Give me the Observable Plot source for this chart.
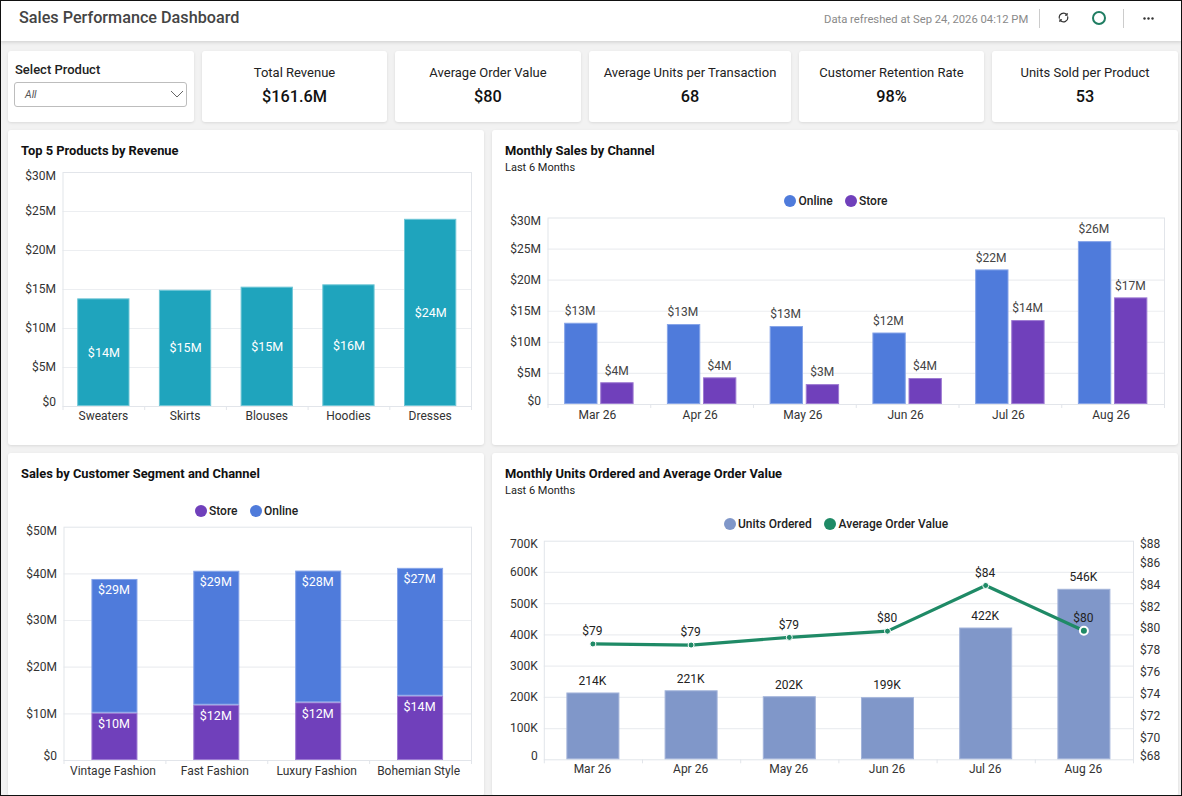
<!DOCTYPE html>
<html>
<head>
<meta charset="utf-8">
<script src="https://cdn.jsdelivr.net/npm/d3@7"></script>
<script src="https://cdn.jsdelivr.net/npm/@observablehq/plot@0.6"></script>
<style>
html,body{margin:0;padding:0;background:#f2f2f2;}
body{width:1182px;height:796px;position:relative;overflow:hidden;font-family:Roboto,sans-serif;color:#222;}
.abs{position:absolute;}
.card{position:absolute;background:#fff;border-radius:3px;box-shadow:0 1px 3px rgba(0,0,0,.10);}
.t{position:absolute;white-space:nowrap;line-height:1;}
.kl{position:absolute;left:0;right:0;top:15px;text-align:center;font-size:13px;line-height:1;color:#222;}
.kv{position:absolute;left:0;right:0;top:37.5px;text-align:center;font-size:16.3px;font-weight:500;line-height:1;color:#111;}
.ct{position:absolute;left:13px;top:14.5px;font-size:12.9px;font-weight:700;line-height:1;color:#111;white-space:nowrap;}
.cs{position:absolute;left:13px;top:32px;font-size:11px;line-height:1;color:#222;white-space:nowrap;}
.ld{position:absolute;width:12px;height:12px;border-radius:50%;}
.lt{position:absolute;font-size:12px;font-weight:500;line-height:1;white-space:nowrap;color:#222;}
svg.plot{position:absolute;left:0;top:0;}
#border{position:absolute;left:0;top:0;width:1182px;height:796px;box-sizing:border-box;border:1.5px solid #111;pointer-events:none;z-index:9;}
</style>
</head>
<body>
<div id="root"></div>
<div id="border"></div>
<script>
const kpiLabels = ["Total Revenue","Average Order Value","Average Units per Transaction","Customer Retention Rate","Units Sold per Product"];
const kpiValues = ["$161.6M","$80","68","98%","53"];

const products = ["Sweaters","Skirts","Blouses","Hoodies","Dresses"];
const productRevenue = [13.8,14.9,15.3,15.6,24.0];

const months = ["Mar 26","Apr 26","May 26","Jun 26","Jul 26","Aug 26"];
const onlineSales = [13.07,12.86,12.54,11.5,21.65,26.2];
const storeSales = [3.5,4.29,3.2,4.18,13.5,17.15];

const segments = ["Vintage Fashion","Fast Fashion","Luxury Fashion","Bohemian Style"];
const segmentStore = [10.13,11.85,12.36,13.78];
const segmentOnline = [28.67,28.71,28.24,27.4];

const unitsOrdered = [214,221,202,199,422,546];
const avgOrderValue = [78.6,78.5,79.2,79.77,83.95,79.8];

const salesTicks30 = [0,5,10,15,20,25,30];
const salesTicks50 = [0,10,20,30,40,50];
const unitTicks = [0,100,200,300,400,500,600,700];
const aovTicks = [68,70,72,74,76,78,80,82,84,86,88];

const TEAL="#1fa4bd", BLUE="#4f7bdb", PURPLE="#7040bb", PERI="#8097c9", GREEN="#1f8a66";
const GRID="#eceef1", FRAME="#e2e5ea", TXT="#333";
const money = v => "$"+Math.round(v)+"M";

const root=document.getElementById("root");
function el(cls,css,html,parent){const d=document.createElement("div");d.className=cls;if(css)d.style.cssText=css;if(html!=null)d.innerHTML=html;(parent||root).appendChild(d);return d;}

// header
el("abs","left:0;top:0;width:1182px;height:41px;background:#fff;box-shadow:0 1px 4px rgba(0,0,0,.16);");
el("t","left:19px;top:10px;font-size:16.2px;font-weight:500;color:#444;","Sales Performance Dashboard");
el("t","left:824px;top:13.5px;font-size:11.25px;color:#8a8a8a;","Data refreshed at Sep 24, 2026 04:12 PM");
el("abs","left:1039px;top:9px;width:1px;height:19px;background:#ccc;");
el("abs","left:1123px;top:9px;width:1px;height:19px;background:#ccc;");
el("abs","left:1058px;top:12px;width:11px;height:11px;",`<svg width="11" height="11" viewBox="0 0 12 12" fill="none" stroke="#333" stroke-width="1.3" style="display:block"><path d="M1.6 7.2A4.6 4.6 0 0 1 9.6 3"/><path d="M10.4 4.8A4.6 4.6 0 0 1 2.4 9"/><path d="M9.9 1v2.4H7.6M2.1 11V8.6h2.3"/></svg>`);
el("abs","left:1092px;top:11px;width:10px;height:10px;border:2px solid #1f7d62;border-radius:50%;");
el("abs","left:1143px;top:17px;width:10px;height:2px;",`<svg width="11" height="3" style="display:block"><circle cx="1.5" cy="1.5" r="1.2" fill="#333"/><circle cx="5.5" cy="1.5" r="1.2" fill="#333"/><circle cx="9.5" cy="1.5" r="1.2" fill="#333"/></svg>`);

// filter card
const fc=el("card","left:8px;top:51px;width:186px;height:71px;");
el("t","left:7px;top:12px;font-size:13px;font-weight:500;color:#222;","Select Product",fc);
el("abs","left:6px;top:31px;width:171px;height:23px;border:1px solid #bdbdbd;border-radius:3px;",`<span style="position:absolute;left:10px;top:6.5px;font-size:10.5px;line-height:1;font-style:italic;color:#555;">All</span><svg style="position:absolute;right:2px;top:7px" width="14" height="9" fill="none" stroke="#666"><path d="M1 1l6 6 6-6"/></svg>`,fc);

// kpi cards
const kpiLeft=[202,395,589,799,992], kpiRight=[387,581,791,984,1178];
kpiLabels.forEach((l,i)=>{
  const c=el("card",`left:${kpiLeft[i]}px;top:51px;width:${kpiRight[i]-kpiLeft[i]}px;height:71px;`);
  el("kl","",l,c); el("kv","",kpiValues[i],c);
});

// chart helpers
function card(l,t,w,h,title,sub){
  const c=el("card",`left:${l}px;top:${t}px;width:${w}px;height:${h}px;`);
  el("ct","",title,c);
  if(sub) el("cs","",sub,c);
  return c;
}
function legend(items){
  items.forEach(([cx,cy,tx,color,label])=>{
    el("ld",`left:${cx-6}px;top:${cy-6}px;background:${color};`);
    el("lt",`left:${tx}px;top:${cy-6.5}px;`,label);
  });
}
function baseAxes({ticks,fmt,step,labelPad=7,xPad=5,xDx=-1,topDy=3.5,botDy=-4.5}){
  const mid=ticks.slice(1,-1), lo=ticks[0], hi=ticks[ticks.length-1];
  const yopt={tickSize:0,tickPadding:labelPad,tickFormat:fmt,label:null,fill:TXT};
  return [
    Plot.gridY(mid,{stroke:GRID,strokeOpacity:1,strokeWidth:1.2}),
    Plot.frame({stroke:FRAME,strokeOpacity:1}),
    Plot.axisX({tickSize:4,tickFormat:null,label:null,dx:-step/2,stroke:FRAME,strokeOpacity:1}),
    Plot.axisX({tickSize:0,tickPadding:xPad,label:null,fill:TXT,dx:xDx}),
    Plot.axisY(mid,yopt),
    Plot.axisY([hi],{...yopt,dy:topDy}),
    Plot.axisY([lo],{...yopt,dy:botDy})
  ];
}
function endTick(domain,step){
  return Plot.axisX(domain.slice(-1),{tickSize:4,tickFormat:null,label:null,dx:step/2,stroke:FRAME,strokeOpacity:1});
}
function draw(parent,w,h,m,xDomain,pad,yDomain,marks){
  const svg=Plot.plot({
    width:w,height:h,
    marginLeft:m[0],marginRight:m[1],marginTop:m[2],marginBottom:m[3],
    x:{type:"band",domain:xDomain,paddingInner:pad,paddingOuter:pad/2,round:false,axis:null},
    y:{domain:yDomain,axis:null},
    style:{fontFamily:"Roboto",fontSize:"12px",background:"transparent",overflow:"visible"},
    marks
  });
  parent.appendChild(svg);
  return svg;
}

// Chart 1
{
  const c=card(8,130,476,315,"Top 5 Products by Revenue");
  const rows=products.map((p,i)=>({p,v:productRevenue[i]}));
  const m=[54.5,13,42,39], step=(476-m[0]-m[1])/products.length;
  draw(c,476,315,m,products,0.36,[0,30],[
    ...baseAxes({ticks:salesTicks30,fmt:v=>v?`$${v}M`:"$0",step,xDx:-0.5}),endTick(products,step),
    Plot.barY(rows,{x:"p",y:"v",fill:TEAL,stroke:"#6fc6d6",strokeWidth:1,inset:0.5}),
    Plot.text(rows,{x:"p",y:d=>d.v/2,text:d=>money(d.v),fill:"#fff",fontSize:12.5})
  ]);
}

// Chart 2
{
  const c=card(492,130,686,315,"Monthly Sales by Channel","Last 6 Months");
  const rows=months.map((p,i)=>({p,o:onlineSales[i],s:storeSales[i]}));
  const m=[55.5,14,87.5,41], step=(686-m[0]-m[1])/months.length, off=18.3, inset=36.6;
  draw(c,686,315,m,months,0.324,[0,30],[
    ...baseAxes({ticks:salesTicks30,fmt:v=>v?`$${v}M`:"$0",step,labelPad:7,xPad:6,xDx:-2,botDy:-3.5}),endTick(months,step),
    Plot.barY(rows,{x:"p",y:"o",fill:BLUE,stroke:"#86a4e8",inset:0.5,insetRight:inset}),
    Plot.barY(rows,{x:"p",y:"s",fill:PURPLE,stroke:"#9d7ad2",inset:0.5,insetLeft:inset}),
    Plot.text(rows,{x:"p",y:"o",text:d=>money(d.o),dx:-off-1,dy:-12,fill:"#444"}),
    Plot.text(rows,{x:"p",y:"s",text:d=>money(d.s),dx:off-1,dy:-12,fill:"#444"})
  ]);
  legend([[790,201,798.5,BLUE,"Online"],[851,201,859,PURPLE,"Store"]]);
}

// Chart 3
{
  const c=card(8,453,476,343,"Sales by Customer Segment and Channel");
  const rows=segments.flatMap((p,i)=>[
    {p,ch:"Store",v:segmentStore[i],top:segmentStore[i]},
    {p,ch:"Online",v:segmentOnline[i],top:segmentStore[i]+segmentOnline[i]}
  ]);
  const m=[55.5,13,73.7,36], step=(476-m[0]-m[1])/segments.length;
  draw(c,476,343,m,segments,0.548,[0,50],[
    ...baseAxes({ticks:salesTicks50,fmt:v=>v?`$${v}M`:"$0",step,xPad:6,xDx:-2}),endTick(segments,step),
    Plot.barY(rows,{x:"p",y:"v",z:"ch",order:["Store","Online"],fill:d=>d.ch==="Store"?PURPLE:BLUE,stroke:d=>d.ch==="Store"?"#9d7ad2":"#86a4e8",inset:0.5}),
    Plot.text(rows,{x:"p",y:"top",dy:11,dx:-1,text:d=>money(d.v),fill:"#fff",fontSize:12.5})
  ]);
  legend([[201,511,209,PURPLE,"Store"],[256,511,264,BLUE,"Online"]]);
}

// Chart 4
{
  const c=card(492,453,686,343,"Monthly Units Ordered and Average Order Value","Last 6 Months");
  const yMax=700;
  const toUnits=v=>(v-68)/20*yMax;
  const rows=months.map((p,i)=>({p,u:unitsOrdered[i],a:avgOrderValue[i]}));
  const m=[51.8,45,87.7,36.7], step=(686-m[0]-m[1])/months.length;
  const ropt={anchor:"right",tickSize:0,tickPadding:6.5,label:null,fill:TXT,tickFormat:v=>"$"+Math.round(v/yMax*20+68)};
  const aovT=aovTicks.map(toUnits);
  draw(c,686,343,m,months,0.46,[0,yMax],[
    ...baseAxes({ticks:unitTicks,fmt:v=>v?`${v}K`:"0",step,labelPad:6.5,xDx:-1,topDy:2.5,botDy:-3.5}),endTick(months,step),
    Plot.axisY(aovT.slice(1,-1),ropt),
    Plot.axisY(aovT.slice(-1),{...ropt,dy:3}),
    Plot.axisY(aovT.slice(0,1),{...ropt,dy:-3.5}),
    Plot.barY(rows,{x:"p",y:"u",fill:PERI,stroke:"#a3b4da",inset:0.5}),
    Plot.line(rows,{x:"p",y:d=>toUnits(d.a),stroke:GREEN,strokeWidth:3.2,dx:-0.5}),
    Plot.dot(rows.slice(0,-1),{x:"p",y:d=>toUnits(d.a),r:3,fill:GREEN,stroke:"#fff",strokeWidth:1,dx:-0.5}),
    Plot.dot(rows.slice(-1),{x:"p",y:d=>toUnits(d.a),r:4,fill:GREEN,stroke:"#fff",strokeWidth:2,dx:-0.5}),
    Plot.text(rows,{x:"p",y:"u",text:d=>d.u+"K",dx:-1,dy:-12,fill:"#222"}),
    Plot.text(rows,{x:"p",y:d=>toUnits(d.a),text:d=>"$"+Math.round(d.a),dx:-1,dy:-12.5,fill:"#222"})
  ]);
  legend([[730,524,738,PERI,"Units Ordered"],[830,524,838.6,GREEN,"Average Order Value"]]);
}
</script>
</body>
</html>
